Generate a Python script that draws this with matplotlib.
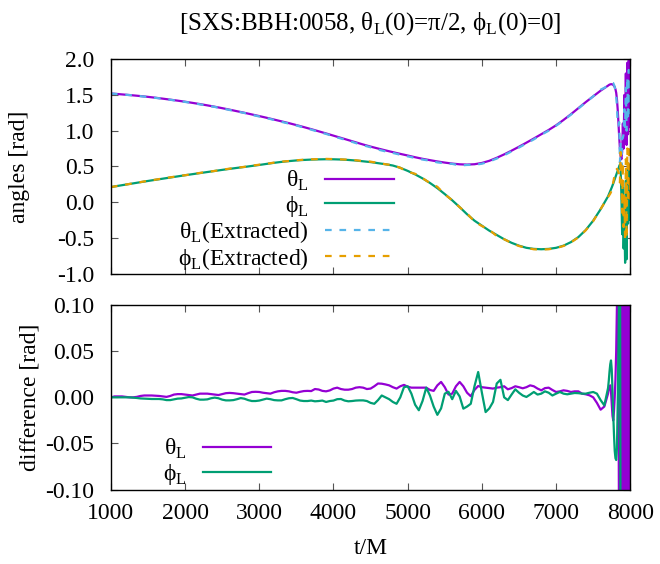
import numpy as np
import matplotlib
matplotlib.use("Agg")
import matplotlib.pyplot as plt
from matplotlib.ticker import FormatStrFormatter, MultipleLocator

plt.rcParams["font.family"] = ["Liberation Serif", "DejaVu Serif"]
plt.rcParams["mathtext.fontset"] = "custom"
plt.rcParams["mathtext.rm"] = "Liberation Serif"
plt.rcParams["axes.unicode_minus"] = False

# time grids: coarse body + dense merger tail
t_tail = np.arange(7710, 8001, 10)
t_top = np.concatenate([np.arange(1000, 7701, 100), t_tail])
t_diff = np.concatenate([np.arange(1000, 7701, 50), t_tail])

theta = [1.520, 1.512, 1.503, 1.494, 1.484, 1.473, 1.461, 1.448, 1.434, 1.420,
         1.405, 1.389, 1.372, 1.354, 1.335, 1.315, 1.294, 1.272, 1.250, 1.227,
         1.204, 1.180, 1.155, 1.130, 1.105, 1.078, 1.050, 1.021, 0.991, 0.961,
         0.930, 0.899, 0.868, 0.837, 0.806, 0.777, 0.750, 0.724, 0.699, 0.675,
         0.652, 0.628, 0.606, 0.587, 0.569, 0.553, 0.539, 0.529, 0.525, 0.530,
         0.548, 0.578, 0.620, 0.668, 0.720, 0.775, 0.832, 0.890, 0.950, 1.010,
         1.075, 1.150, 1.230, 1.315, 1.400, 1.480, 1.560, 1.630,
         1.638, 1.644, 1.648, 1.650, 1.650, 1.647, 1.640, 1.628, 1.610, 1.580,
         1.530, 1.440, 1.300, 1.120, 0.920, 0.750, 0.640, 0.600, 0.700, 1.100,
         0.750, 1.500, 0.850, 1.800, 0.800, 1.950, 0.950, 2.050, 1.050, 1.850]

phi = [0.210, 0.228, 0.245, 0.262, 0.279, 0.296, 0.312, 0.328, 0.344, 0.360,
       0.376, 0.391, 0.406, 0.421, 0.436, 0.451, 0.465, 0.479, 0.492, 0.506,
       0.520, 0.535, 0.550, 0.563, 0.574, 0.583, 0.590, 0.595, 0.598, 0.600,
       0.599, 0.596, 0.590, 0.582, 0.571, 0.560, 0.545, 0.530, 0.512, 0.480,
       0.437, 0.388, 0.332, 0.268, 0.195, 0.112, 0.025, -0.070, -0.170, -0.260,
       -0.330, -0.400, -0.460, -0.520, -0.570, -0.610, -0.640, -0.655, -0.660, -0.655,
       -0.640, -0.610, -0.560, -0.490, -0.390, -0.260, -0.100, 0.080,
       0.105, 0.130, 0.155, 0.180, 0.205, 0.232, 0.260, 0.290, 0.320, 0.350,
       0.380, 0.410, 0.440, 0.470, 0.500, 0.525, 0.450, 0.100, -0.450, 0.250,
       -0.650, -0.200, -0.850, 0.300, -0.800, 0.450, -0.300, 0.500, -0.250, 0.050]

dtheta = [0.000, 0.001, 0.001, 0.001, 0.0005, 0.000, 0.000, 0.0005, 0.0015, 0.002,
          0.002, 0.002, 0.0018, 0.0015, 0.001, 0.0005, 0.0015, 0.003, 0.0035, 0.0035,
          0.003, 0.0025, 0.002, 0.003, 0.004, 0.004, 0.004, 0.0035, 0.003, 0.0025,
          0.0035, 0.0045, 0.0048, 0.0045, 0.004, 0.0035, 0.003, 0.0045, 0.0058, 0.006,
          0.0058, 0.005, 0.0045, 0.004, 0.0055, 0.0065, 0.007, 0.007, 0.0065, 0.0055,
          0.005, 0.006, 0.0068, 0.007, 0.0068, 0.009, 0.0085, 0.007, 0.0065, 0.0075,
          0.0095, 0.0105, 0.009, 0.0083, 0.0083, 0.009, 0.0105, 0.011, 0.0105, 0.009,
          0.0095, 0.012, 0.015, 0.0148, 0.014, 0.013, 0.011, 0.0095, 0.012, 0.0135,
          0.0115, 0.0105, 0.0105, 0.0105, 0.0105, 0.0105, 0.008, 0.007, 0.013, 0.0167,
          0.011, 0.003, 0.004, 0.012, 0.0167, 0.012, 0.005, 0.0012, 0.008, 0.0123,
          0.011, 0.0105, 0.010, 0.0095, 0.0105, 0.011, 0.012, 0.0087, 0.010, 0.012,
          0.011, 0.0098, 0.011, 0.013, 0.012, 0.0095, 0.0076, 0.010, 0.0105, 0.008,
          0.0058, 0.0065, 0.0076, 0.007, 0.0058, 0.0065, 0.0065, 0.004, 0.0033, 0.0022,
          0.000, -0.006, -0.0134, -0.010, 0.004,
          0.009, 0.012, 0.013, 0.006, -0.008, -0.020, -0.025, -0.015, 0.000, 0.020,
          0.050, 0.100, 0.200, 0.050, -0.200, 0.200, -0.200, 0.200, -0.200, 0.200,
          -0.200, 0.200, -0.200, 0.200, -0.200, 0.200, -0.200, 0.200, -0.200, 0.200]

dphi = [0.000, 0.000, 0.000, 0.000, 0.000, 0.000, -0.0003, -0.0007, -0.0012, -0.0014,
        -0.0016, -0.0018, -0.0018, -0.0018, -0.0022, -0.003, -0.003, -0.0022, -0.0014, -0.0012,
        -0.0005, 0.0003, 0.000, -0.0015, -0.0025, -0.0025, -0.0022, -0.001, -0.0003, -0.001,
        -0.0025, -0.0033, -0.0033, -0.003, -0.002, -0.0008, -0.0015, -0.003, -0.004, -0.004,
        -0.0035, -0.0025, -0.0014, -0.002, -0.003, -0.0033, -0.0033, -0.002, -0.001, -0.0007,
        -0.002, -0.0035, -0.004, -0.004, -0.0035, -0.0043, -0.004, -0.0035, -0.005, -0.004,
        -0.0035, -0.002, -0.0018, -0.0035, -0.0043, -0.004, -0.0035, -0.0033, -0.0033, -0.004,
        -0.006, -0.007, -0.003, 0.002, 0.000, -0.002, -0.005, -0.007, 0.000, 0.011,
        0.012, 0.004, -0.008, -0.014, -0.004, 0.0105, 0.002, -0.010, -0.019, -0.012,
        0.004, 0.006, -0.002, 0.007, 0.001, -0.0123, -0.010, -0.007, 0.012, 0.0275,
        0.005, -0.016, -0.012, -0.005, 0.015, 0.019, 0.000, -0.003, 0.003, 0.0087,
        0.005, 0.002, 0.0004, 0.003, 0.0058, 0.003, 0.004, 0.0065, 0.005, 0.002,
        0.004, 0.0058, 0.004, 0.0033, 0.004, 0.0047, 0.0045, 0.004, 0.004, 0.005,
        0.0058, 0.004, -0.003, -0.0087, 0.010,
        0.018, 0.028, 0.036, 0.040, 0.030, 0.008, -0.018, -0.040, -0.058, -0.066,
        -0.068, -0.055, -0.010, 0.050, 0.120, 0.250, -0.250, -0.300, -0.300, -0.300,
        -0.300, -0.300, -0.300, -0.300, -0.300, -0.300, -0.300, -0.300, -0.300, -0.300]

# extracted angles = angle minus difference, sampled on the top grid
n_body = len(np.arange(1000, 7701, 50))
dtheta_top = np.concatenate([np.array(dtheta[:n_body:2]), np.array(dtheta[n_body:])])
dphi_top = np.concatenate([np.array(dphi[:n_body:2]), np.array(dphi[n_body:])])
theta_ext = np.array(theta) - dtheta_top
phi_ext = np.array(phi) - dphi_top

c_theta = "#9400D3"
c_phi = "#009E73"
c_theta_x = "#56B4E9"
c_phi_x = "#E69F00"
fs = 17
TH = "θ$_{\\rm L}$"
PH = "ϕ$_{\\rm L}$"

fig = plt.figure(figsize=(6.6, 5.64), dpi=100)
ax1 = fig.add_axes([0.168, 0.515, 0.787, 0.380])
ax2 = fig.add_axes([0.168, 0.132, 0.787, 0.327])

ax1.plot(t_top, theta, color=c_theta, lw=1.6, label=TH)
ax1.plot(t_top, phi, color=c_phi, lw=1.6, label=PH)
ax1.plot(t_top, theta_ext, color=c_theta_x, lw=1.6, ls=(0, (3, 3.5)), label=TH + "(Extracted)")
ax1.plot(t_top, phi_ext, color=c_phi_x, lw=1.6, ls=(0, (3, 3.5)), label=PH + "(Extracted)")
ax1.set_xlim(1000, 8000)
ax1.set_ylim(-1.0, 2.0)
ax1.yaxis.set_major_locator(MultipleLocator(0.5))
ax1.yaxis.set_major_formatter(FormatStrFormatter("%.1f"))
ax1.set_xticklabels([])
ax1.set_ylabel("angles [rad]", fontsize=fs)
ax1.yaxis.set_label_coords(-0.155, 0.5)
ax1.set_title("[SXS:BBH:0058, " + TH + "(0)=π/2, " + PH + "(0)=0]", fontsize=18, pad=21)
ax1.legend(loc="upper right", bbox_to_anchor=(0.567, 0.543), frameon=False, fontsize=fs,
           markerfirst=False, handlelength=2.9, labelspacing=0.02, handletextpad=0.7,
           borderpad=0)

ax2.plot(t_diff, dtheta, color=c_theta, lw=1.6, label=TH)
ax2.plot(t_diff, dphi, color=c_phi, lw=1.6, label=PH)
ax2.set_xlim(1000, 8000)
ax2.set_ylim(-0.10, 0.10)
ax2.yaxis.set_major_locator(MultipleLocator(0.05))
ax2.yaxis.set_major_formatter(FormatStrFormatter("%.2f"))
ax2.set_ylabel("difference [rad]", fontsize=fs)
ax2.yaxis.set_label_coords(-0.136, 0.5)
ax2.set_xlabel("t/M", fontsize=fs, labelpad=10)
ax2.legend(loc="lower left", bbox_to_anchor=(0.077, -0.05), frameon=False, fontsize=fs,
           markerfirst=False, handlelength=2.9, labelspacing=0.02, handletextpad=0.7,
           borderpad=0)

for ax in (ax1, ax2):
    ax.xaxis.set_major_locator(MultipleLocator(1000))
    ax.tick_params(direction="in", top=True, right=True, length=5, width=0.8,
                   labelsize=fs, color="#555555")
    ax.tick_params(axis="y", pad=12)
    ax.tick_params(axis="x", pad=10)
    for s in ax.spines.values():
        s.set_linewidth(1.0)

fig.savefig("out.png", dpi=100)
